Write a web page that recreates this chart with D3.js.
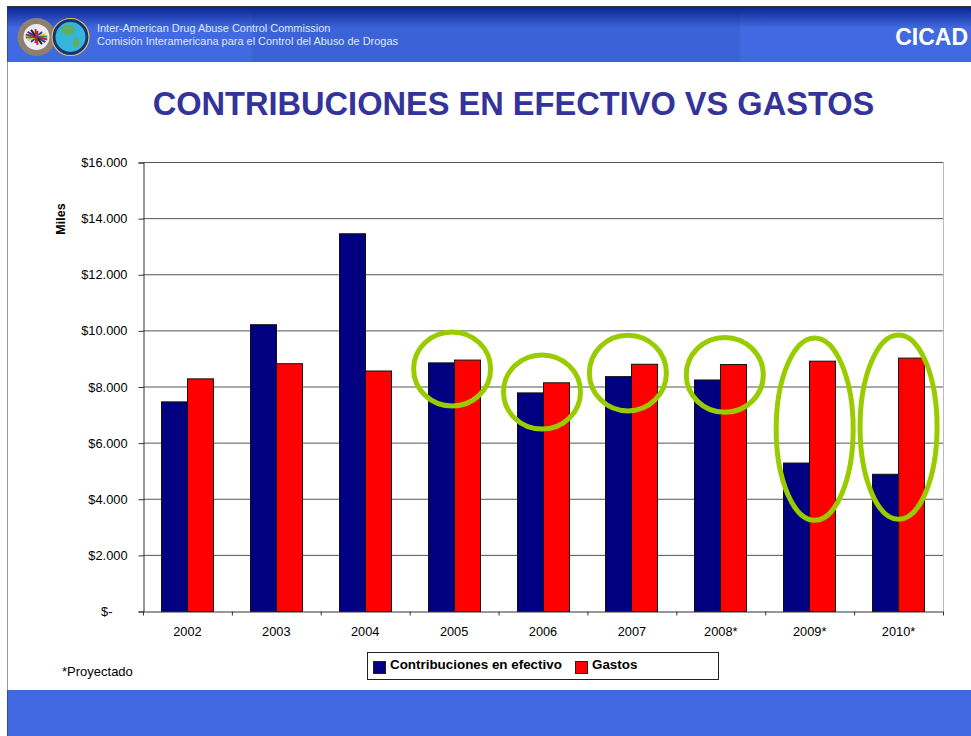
<!DOCTYPE html>
<html>
<head>
<meta charset="utf-8">
<script src="https://cdn.jsdelivr.net/npm/d3@7"></script>
<style>
  html, body { margin: 0; padding: 0; background: #fff; }
  text { font-family: "Liberation Sans", Arial, sans-serif; }
</style>
</head>
<body>
<div id="chart"></div>
<script>
// ---- Data ----
const years = ["2002", "2003", "2004", "2005", "2006", "2007", "2008*", "2009*", "2010*"];
const contribuciones = [7470, 10220, 13460, 8860, 7790, 8370, 8250, 5290, 4890];
const gastos = [8290, 8830, 8570, 8960, 8150, 8810, 8800, 8920, 9030];
const seriesNames = ["Contribuciones en efectivo", "Gastos"];
const yTicks = [0, 2000, 4000, 6000, 8000, 10000, 12000, 14000, 16000];

// green rings: year, top value, bottom value
const ringYears = ["2005", "2006", "2007", "2008*", "2009*", "2010*"];
const ringTops = [9946, 9125, 9830, 9750, 9732, 9839];
const ringBottoms = [7304, 6482, 7130, 7080, 3232, 3268];

const W = 971, H = 736;
const svg = d3.select("#chart").append("svg").attr("width", W).attr("height", H);

// ---- Slide frame ----
const defs = svg.append("defs");
const grad = defs.append("linearGradient").attr("id", "head").attr("x1", 0).attr("x2", 0).attr("y1", 0).attr("y2", 1);
grad.append("stop").attr("offset", 0).attr("stop-color", "#0b2590");
grad.append("stop").attr("offset", 0.38).attr("stop-color", "#4169e1");
grad.append("stop").attr("offset", 1).attr("stop-color", "#4169e1");
const gradMid = defs.append("linearGradient").attr("id", "headMid").attr("x1", 0).attr("x2", 0).attr("y1", 0).attr("y2", 1);
gradMid.append("stop").attr("offset", 0).attr("stop-color", "#0b2590");
gradMid.append("stop").attr("offset", 0.38).attr("stop-color", "#3c62d8");
gradMid.append("stop").attr("offset", 1).attr("stop-color", "#3c62d8");

svg.append("rect").attr("x", 7).attr("y", 7).attr("width", W - 7).attr("height", 55).attr("fill", "url(#head)");
svg.append("rect").attr("x", 252).attr("y", 7).attr("width", 488).attr("height", 55).attr("fill", "url(#headMid)");
svg.append("rect").attr("x", 7).attr("y", 6).attr("width", W - 7).attr("height", 1).attr("fill", "#333");
svg.append("rect").attr("x", 7).attr("y", 690).attr("width", W - 7).attr("height", 46).attr("fill", "#4169e1");
svg.append("rect").attr("x", 7).attr("y", 6).attr("width", 1).attr("height", H - 6).attr("fill", "#333").attr("opacity", 0.5);

// ---- Logos ----
const logo = svg.append("g");
logo.append("circle").attr("cx", 36.5).attr("cy", 37).attr("r", 19).attr("fill", "#8f7f6c");
logo.append("circle").attr("cx", 36.5).attr("cy", 37).attr("r", 13).attr("fill", "#eceef4");
["#c8202c", "#2a3f9a", "#e6c62e", "#2f8a4a", "#c8202c", "#2a3f9a", "#222", "#c8202c"].forEach((c, i) => {
  const a = (i - 3.5) * 0.42;
  logo.append("line")
    .attr("x1", 36.5 - 11 * Math.cos(a)).attr("y1", 36 - 7 * Math.sin(a))
    .attr("x2", 36.5 + 11 * Math.cos(a)).attr("y2", 38 + 7 * Math.sin(a))
    .attr("stroke", c).attr("stroke-width", 2);
});
logo.append("circle").attr("cx", 70.5).attr("cy", 37).attr("r", 18.5).attr("fill", "#1d2f7a").attr("stroke", "#d9c94a").attr("stroke-width", 1.2);
logo.append("circle").attr("cx", 70.5).attr("cy", 37).attr("r", 15).attr("fill", "#35b6d8");
logo.append("ellipse").attr("cx", 68).attr("cy", 30).attr("rx", 7).attr("ry", 5).attr("fill", "#5fae62");
logo.append("ellipse").attr("cx", 76).attr("cy", 43).attr("rx", 3).attr("ry", 5).attr("fill", "#5fae62");

// ---- Header and title texts ----
svg.append("text").attr("x", 97).attr("y", 32).attr("font-size", 10.95).attr("fill", "#dfe6fa")
  .text("Inter-American Drug Abuse Control Commission");
svg.append("text").attr("x", 97).attr("y", 45).attr("font-size", 10.95).attr("fill", "#dfe6fa")
  .text("Comisión Interamericana para el Control del Abuso de Drogas");
svg.append("text").attr("x", 968).attr("y", 45).attr("text-anchor", "end").attr("font-size", 23)
  .attr("font-weight", "bold").attr("fill", "#fff").text("CICAD");
svg.append("text").attr("x", 513.5).attr("y", 115).attr("text-anchor", "middle").attr("font-size", 32.6)
  .attr("font-weight", "bold").attr("fill", "#333399").text("CONTRIBUCIONES EN EFECTIVO VS GASTOS");

// ---- Scales ----
const margin = { top: 162, right: 28, bottom: 125, left: 143 };
const x = d3.scaleBand().domain(years).range([margin.left, W - margin.right]);
const y = d3.scaleLinear().domain([0, 16000]).range([H - margin.bottom, margin.top]);
const barW = 26;

const plot = svg.append("g");

// ---- Grid ----
plot.append("g").selectAll("line").data(yTicks.slice(1)).join("line")
  .attr("x1", margin.left).attr("x2", W - margin.right)
  .attr("y1", d => y(d) + 0.5).attr("y2", d => y(d) + 0.5)
  .attr("stroke", "#555").attr("stroke-width", 1);
plot.append("line").attr("x1", W - margin.right + 0.5).attr("x2", W - margin.right + 0.5)
  .attr("y1", y(16000)).attr("y2", y(0)).attr("stroke", "#bbb");

// ---- Bars ----
const bars = [contribuciones, gastos];
const colors = ["#000080", "#ff0000"];
bars.forEach((vals, s) => {
  plot.append("g").selectAll("rect").data(vals).join("rect")
    .attr("x", (d, i) => Math.floor(x(years[i]) + x.bandwidth() / 2) + (s - 1) * barW + 0.5)
    .attr("y", d => y(d) + 0.5)
    .attr("width", barW)
    .attr("height", d => y(0) - y(d))
    .attr("fill", colors[s])
    .attr("stroke", "#111")
    .attr("stroke-width", 1);
});

// ---- Axes ----
const yAxis = d3.axisLeft(y).tickValues(yTicks).tickSize(5)
  .tickFormat(d => d === 0 ? "$-" : "$" + d3.format(",")(d).replace(",", "."));
const gy = svg.append("g").attr("transform", `translate(${margin.left + 0.5},0.5)`).call(yAxis);
const xAxis = d3.axisBottom(x).tickSize(0).tickPadding(15);
const gx = svg.append("g").attr("transform", `translate(0,${y(0) + 0.5})`).call(xAxis);
gx.selectAll(".tick line").remove();
gx.selectAll("line.sep").data(d3.range(years.length + 1)).join("line").attr("class", "sep")
  .attr("x1", i => margin.left + i * x.step() + 0.5).attr("x2", i => margin.left + i * x.step() + 0.5)
  .attr("y1", 0).attr("y2", 4).attr("stroke", "#333");
[gy, gx].forEach(g => {
  g.select(".domain").attr("stroke", "#333");
  g.selectAll("text").attr("font-size", 12.8).attr("fill", "#000")
    .attr("font-family", '"Liberation Sans", Arial, sans-serif');
  g.selectAll(".tick line").attr("stroke", "#333");
});
gy.selectAll("text").attr("x", d => d === 0 ? -31 : -16);

svg.append("text").attr("transform", "translate(65,219) rotate(-90)").attr("text-anchor", "middle")
  .attr("font-size", 12.5).attr("font-weight", "bold").text("Miles");

// ---- Rings ----
// rings were drawn by hand on the slide, so they sit a little off each category centre
const ringShift = [-2, -1, -4, 4, 5, 0];
svg.append("g").selectAll("ellipse").data(ringYears).join("ellipse")
  .attr("cx", (d, i) => x(d) + x.bandwidth() / 2 + ringShift[i])
  .attr("cy", (d, i) => (y(ringTops[i]) + y(ringBottoms[i])) / 2)
  .attr("rx", 38.5)
  .attr("ry", (d, i) => (y(ringBottoms[i]) - y(ringTops[i])) / 2)
  .attr("fill", "none").attr("stroke", "#99cc00").attr("stroke-width", 5);

// ---- Legend ----
const legend = svg.append("g");
legend.append("rect").attr("x", 367.5).attr("y", 652.5).attr("width", 351).attr("height", 27)
  .attr("fill", "#fff").attr("stroke", "#222");
[[373, 390], [575, 592]].forEach(([sx, tx], i) => {
  legend.append("rect").attr("x", sx + 0.5).attr("y", 661.5).attr("width", 12).attr("height", 12)
    .attr("fill", colors[i]).attr("stroke", "#222");
  legend.append("text").attr("x", tx).attr("y", 669).attr("font-size", 13.4).attr("font-weight", "bold")
    .text(seriesNames[i]);
});

svg.append("text").attr("x", 62).attr("y", 676).attr("font-size", 13).text("*Proyectado");
</script>
</body>
</html>
